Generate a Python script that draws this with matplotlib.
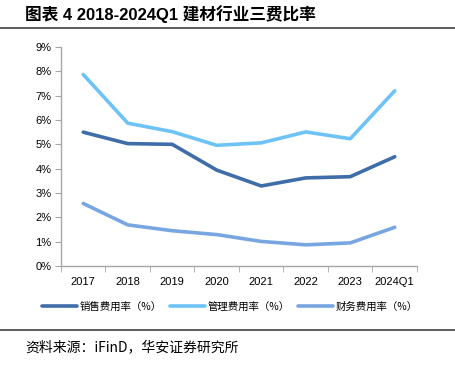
import matplotlib
matplotlib.use("Agg")
import matplotlib.pyplot as plt
from matplotlib.ticker import FixedLocator, PercentFormatter

plt.rcParams['font.family'] = ['Liberation Sans', 'Noto Sans CJK SC', 'DejaVu Sans']

categories = ['2017', '2018', '2019', '2020', '2021', '2022', '2023', '2024Q1']
sales = [5.50, 5.03, 5.00, 3.94, 3.29, 3.62, 3.67, 4.49]
admin = [7.87, 5.87, 5.52, 4.96, 5.06, 5.51, 5.23, 7.20]
finance = [2.57, 1.69, 1.45, 1.29, 1.01, 0.87, 0.95, 1.59]
series_names = ['销售费用率（%）', '管理费用率（%）', '财务费用率（%）']
colors = ['#3F6DA8', '#6EC3F6', '#78A6E0']

W, H = 456, 365
fig = plt.figure(figsize=(W/100, H/100), dpi=100)
ax = fig.add_axes([61/W, 1-266/H, (417-61)/W, (266-47)/H])

x = list(range(len(categories)))
for vals, name, c in zip([sales, admin, finance], series_names, colors):
    ax.plot(x, vals, color=c, lw=2.6, label=name, solid_capstyle='round', solid_joinstyle='round')

ax.set_xlim(-0.5, len(categories)-0.5)
ax.set_ylim(0, 9)
ax.set_yticks(range(0, 10))
ax.yaxis.set_major_formatter(PercentFormatter(decimals=0))
ax.set_xticks(x)
ax.set_xticklabels(categories)
ax.xaxis.set_minor_locator(FixedLocator([i - 0.5 for i in range(len(categories)+1)]))
ax.tick_params(axis='x', which='major', length=0, pad=8, labelsize=8)
ax.tick_params(axis='x', which='minor', length=4, color='#A6A6A6', direction='out')
ax.tick_params(axis='y', length=4, color='#A6A6A6', labelsize=8, pad=3)
for s in ['top', 'right']:
    ax.spines[s].set_visible(False)
for s in ['left', 'bottom']:
    ax.spines[s].set_color('#A6A6A6')
    ax.spines[s].set_linewidth(1.0)

fig.legend(loc='center', bbox_to_anchor=(230/W, 1-307/H), ncol=3, frameon=False,
           prop={'family': ['Noto Sans CJK SC'], 'size': 7.5}, handlelength=3.3,
           handletextpad=0.3, columnspacing=0.8)

fig.text(25/W, 1-14/H, '图表 4 2018-2024Q1 建材行业三费比率', fontsize=12, fontweight='bold',
         family=['Liberation Sans', 'Noto Sans CJK SC'], va='center', ha='left')
fig.add_artist(plt.Line2D([0, 1], [1-28/H, 1-28/H], color='#404040', lw=1.2, transform=fig.transFigure))
fig.add_artist(plt.Line2D([0, 1], [1-330/H, 1-330/H], color='#404040', lw=1.2, transform=fig.transFigure))
fig.text(25/W, 1-347/H, '资料来源：iFinD，华安证券研究所', fontsize=10,
         family=['Noto Sans CJK SC', 'DejaVu Sans'], va='center', ha='left')

fig.savefig('out.png', dpi=100)
